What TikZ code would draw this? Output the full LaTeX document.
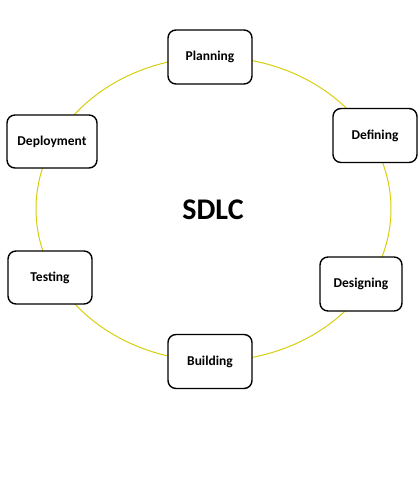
\documentclass[tikz,border=0pt]{standalone}
\usepackage{fontspec}
\setmainfont{Carlito}
\definecolor{ringyellow}{HTML}{D6CE0C}
\begin{document}
\begin{tikzpicture}[x=1pt,y=-1pt,
  stage/.style={draw=black, line width=1.4pt, rounded corners=8pt, fill=white,
    minimum width=84pt, minimum height=54pt, inner sep=0pt,
    font=\fontsize{13.5}{15}\selectfont\bfseries}]
\useasboundingbox (0,0) rectangle (420,480);
\draw[ringyellow, line width=1pt] (213.5,209) ellipse [x radius=177.5, y radius=152];
\node[stage] (plan) at (210,57) {Planning};
\node[stage] (def) at (375,135.5) {Defining};
\node[stage, minimum width=82pt] (des) at (361,284) {Designing};
\node[stage] (bld) at (210,361.5) {Building};
\node[stage, minimum height=53pt] (tst) at (50,277.5) {Testing};
\node[stage, minimum width=90pt, minimum height=53pt] (dep) at (52,141.5) {Deployment};
\node[font=\fontsize{30}{33}\selectfont\bfseries] (title) at (213,210) {SDLC};
\end{tikzpicture}
\end{document}
